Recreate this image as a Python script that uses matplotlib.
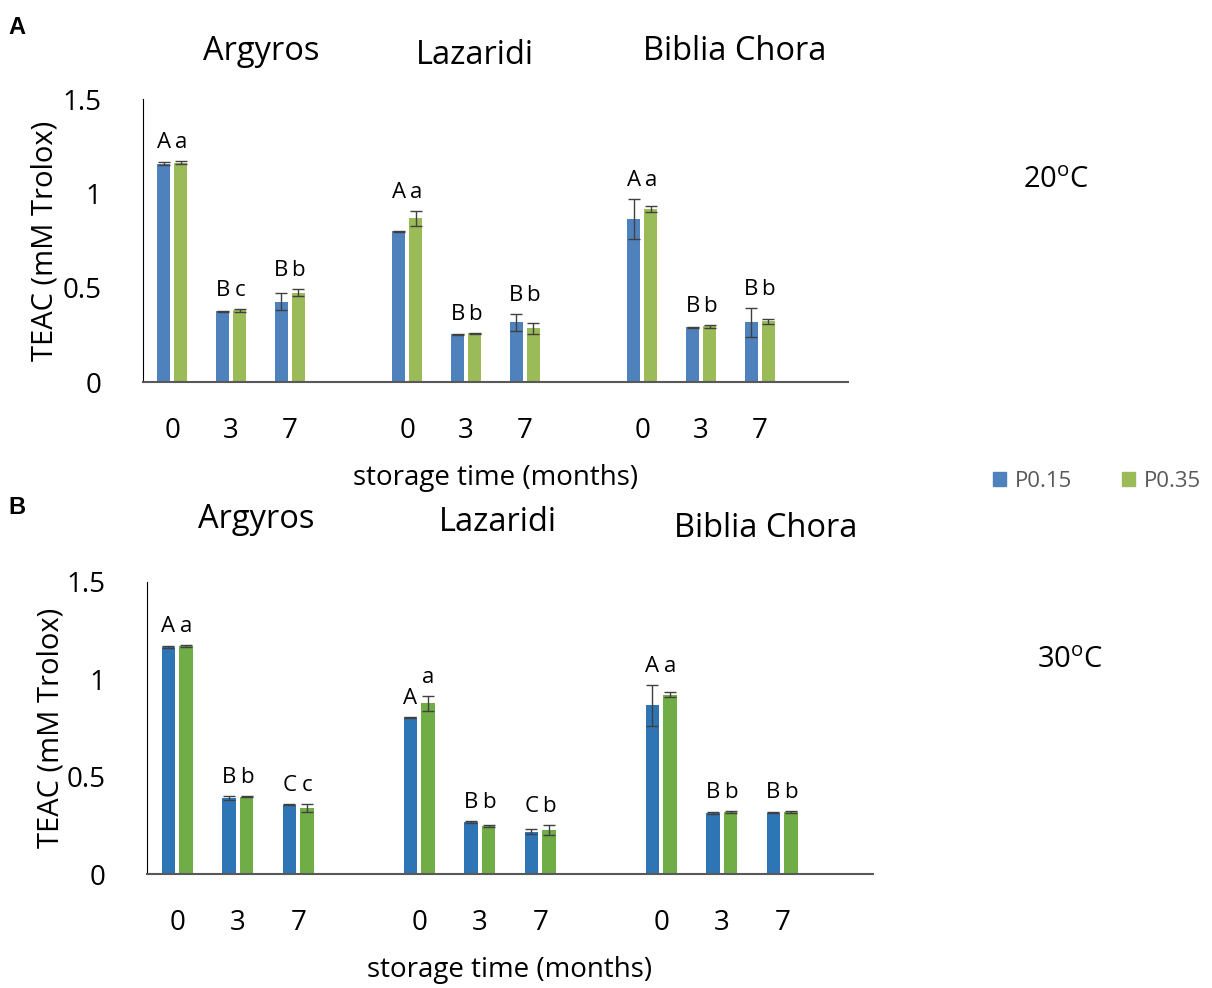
import matplotlib
matplotlib.use("Agg")
from matplotlib import pyplot as plt
from matplotlib.patches import Patch
import numpy as np

cultivars = ["Argyros", "Lazaridi", "Biblia Chora"]
months = ["0", "3", "7"]

# panel A, 20 oC
a_p015 = [1.158, 0.374, 0.426, 0.800, 0.252, 0.316, 0.863, 0.289, 0.316]
a_p015_err = [0.006, 0.003, 0.046, 0.003, 0.003, 0.046, 0.105, 0.003, 0.075]
a_p035 = [1.163, 0.379, 0.474, 0.868, 0.258, 0.284, 0.916, 0.295, 0.321]
a_p035_err = [0.006, 0.008, 0.020, 0.040, 0.003, 0.030, 0.015, 0.008, 0.012]
a_let015 = ["A", "B", "B", "A", "B", "B", "A", "B", "B"]
a_let035 = ["a", "c", "b", "a", "b", "b", "a", "b", "b"]

# panel B, 30 oC
b_p015 = [1.165, 0.390, 0.356, 0.804, 0.268, 0.216, 0.866, 0.313, 0.315]
b_p015_err = [0.006, 0.010, 0.003, 0.003, 0.006, 0.013, 0.107, 0.004, 0.003]
b_p035 = [1.170, 0.397, 0.340, 0.876, 0.247, 0.227, 0.922, 0.318, 0.318]
b_p035_err = [0.006, 0.004, 0.020, 0.040, 0.004, 0.027, 0.013, 0.004, 0.005]
b_let015 = ["A", "B", "C", "A", "B", "C", "A", "B", "B"]
b_let035 = ["a", "b", "c", "a", "b", "b", "a", "b", "b"]

W, H = 1212, 988
FONT = "Open Sans"
plt.rcParams["font.family"] = [FONT, "DejaVu Sans"]
plt.rcParams["mathtext.fontset"] = "custom"
plt.rcParams["mathtext.rm"] = FONT
plt.rcParams["mathtext.default"] = "regular"


def fx(px):
    return px / W


def fy(py):
    return 1 - py / H


def draw_panel(fig, rect, v1, e1, v2, e2, l1, l2, c1, c2, split=()):
    ax = fig.add_axes(rect)
    x = np.array([g * 4 + m for g in range(3) for m in range(3)], dtype=float)
    w = 0.22
    off = 0.145
    ekw = dict(ecolor="#404040", elinewidth=1, capsize=4.5, capthick=1)
    ax.bar(x - off, v1, w, yerr=e1, color=c1, error_kw=ekw, label="P0.15")
    ax.bar(x + off, v2, w, yerr=e2, color=c2, error_kw=ekw, label="P0.35")

    # significance letters
    for i in range(len(x)):
        t1 = v1[i] + e1[i]
        t2 = v2[i] + e2[i]
        if i not in split:
            t1 = t2 = max(t1, t2)
        ax.annotate(l1[i], (x[i] - off, t1), xytext=(0, 13), textcoords="offset pixels",
                    ha="center", va="baseline", fontsize=16)
        ax.annotate(l2[i], (x[i] + off, t2), xytext=(0, 13), textcoords="offset pixels",
                    ha="center", va="baseline", fontsize=16)

    ax.set_xlim(-0.5, 11.5)
    ax.set_ylim(0, 1.5)
    ax.set_yticks([0, 0.5, 1, 1.5])
    ax.set_yticklabels(["0", "0.5", "1", "1.5"])
    ax.set_xticks(x)
    ax.set_xticklabels(months * 3)
    ax.tick_params(axis="both", length=0, labelsize=20)
    ax.tick_params(axis="y", pad=30)
    ax.tick_params(axis="x", pad=25)
    for s in ["top", "right"]:
        ax.spines[s].set_visible(False)
    ax.spines["left"].set_color("#000000")
    ax.spines["bottom"].set_color("#595959")
    ax.spines["bottom"].set_linewidth(1.5)
    ax.set_xlabel("storage time (months)", fontsize=20, labelpad=14)
    ax.set_ylabel("TEAC (mM Trolox)", fontsize=21)
    return ax


fig = plt.figure(figsize=(W / 100, H / 100), dpi=100)

ax_a = draw_panel(fig, [fx(143), fy(382), fx(848 - 143), (382 - 99) / H],
                  a_p015, a_p015_err, a_p035, a_p035_err, a_let015, a_let035,
                  "#4F81BD", "#9BBB59")
ax_a.yaxis.set_label_coords(-0.118, 0.5)

ax_b = draw_panel(fig, [fx(147), fy(874), fx(873 - 147), (874 - 582) / H],
                  b_p015, b_p015_err, b_p035, b_p035_err, b_let015, b_let035,
                  "#2E75B6", "#70AD47", split=(3,))
ax_b.yaxis.set_label_coords(-0.112, 0.5)

# cultivar headings
for name, px, py in zip(cultivars, [261, 475, 735], [52, 55, 52]):
    fig.text(fx(px), fy(py), name, ha="center", va="center", fontsize=23.5)
for name, px, py in zip(cultivars, [256, 498, 766], [520, 522, 528]):
    fig.text(fx(px), fy(py), name, ha="center", va="center", fontsize=23.5)

fig.text(fx(1056), fy(180), r"20$^{o}$C", ha="center", va="center", fontsize=21)
fig.text(fx(1070), fy(660), r"30$^{o}$C", ha="center", va="center", fontsize=21)

fig.text(fx(17), fy(28), "A", ha="center", va="center", fontsize=17,
         fontweight="bold", family="Liberation Sans")
fig.text(fx(17), fy(508), "B", ha="center", va="center", fontsize=17,
         fontweight="bold", family="Liberation Sans")

handles = [Patch(color="#4F81BD", label="P0.15"), Patch(color="#9BBB59", label="P0.35")]
fig.legend(handles=handles, loc="center", bbox_to_anchor=(fx(1097), fy(481)), ncol=2,
           frameon=False, fontsize=16, handlelength=0.6, handleheight=0.6,
           handletextpad=0.4, columnspacing=2.2, labelcolor="#595959")

fig.savefig("out.png", dpi=100)
